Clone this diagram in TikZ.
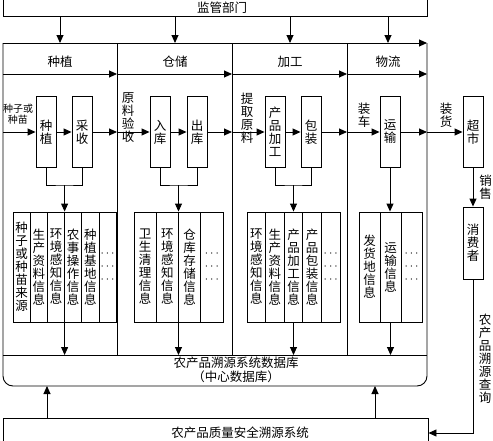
\documentclass[tikz,border=0pt]{standalone}
\usepackage{fontspec}
\setmainfont{Noto Sans CJK SC}
\usetikzlibrary{arrows.meta}

\tikzset{
  arr/.style={-{Triangle[length=8pt,width=7pt]}},
  stage/.style={draw, minimum width=20pt, minimum height=71pt, inner sep=0pt, align=center},
  cell/.style={draw, minimum width=#1, minimum height=110pt, inner sep=0pt, align=center},
  vtext/.style={inner sep=0pt, align=center},
}

\begin{document}
\begin{tikzpicture}[x=1pt, y=-1pt, line width=0.9pt,
  every node/.style={font=\fontsize{12.5}{13}\selectfont}]
\useasboundingbox (0,0) rectangle (493,440);

% supervision box
\node[draw, minimum width=424pt, minimum height=20pt] (jgbm) at (215,6) {};
\node (jgbmt) at (222,8) {监管部门};

% helper levels
\coordinate (ftop) at (0,43);
\coordinate (dbl) at (0,355);
\coordinate (fbot) at (0,386);

% outer frame and columns
\draw[rounded corners=10pt] (3,43) -- (3,386) -- (427,386) -- (427,43);
\draw[arr] (3,43) -- (427,43);
\draw (117,43) -- (117,355);
\draw (232,43) -- (232,355);
\draw (347,43) -- (347,355);
\draw (3,355) -- (427,355);

\draw[arr] (3,74) -- (117,74);
\draw[arr] (117,74) -- (232,74);
\draw[arr] (232,74) -- (347,74);
\draw[arr] (347,74) -- (427,74);

% column heads
\node (hzz) at (60,62) {种植};
\node (hcc) at (175,62) {仓储};
\node (hjg) at (290,62) {加工};
\node (hwl) at (388,62) {物流};
\draw[arr] (jgbm.south -| hzz) -- (hzz |- ftop);
\draw[arr] (jgbm.south -| hcc) -- (hcc |- ftop);
\draw[arr] (jgbm.south -| hjg) -- (hjg |- ftop);
\draw[arr] (jgbm.south -| hwl) -- (hwl |- ftop);

% stages
\node[stage] (zz) at (46,132) {种\\植};
\node[stage] (sh) at (82,132) {采\\收};
\node[stage] (rk) at (160,132) {入\\库};
\node[stage] (ck) at (197,132) {出\\库};
\node[stage] (jg) at (275,132) {产\\品\\加\\工};
\node[stage] (bz) at (311,132) {包\\装};
\node[stage] (ys) at (390,132) {运\\输};
\node[stage] (cs) at (473,132) {超\\市};
\node[stage, minimum height=72pt] (xfz) at (473,243) {消\\费\\者};

\coordinate (b0) at (3,132);
\coordinate (b1) at (117,132);
\coordinate (b2) at (232,132);
\coordinate (b3) at (347,132);
\coordinate (b4) at (427,132);

\node[font=\fontsize{10}{11}\selectfont, align=center, inner sep=0pt] (zzzm) at (18,114) {种子或\\种苗};
\node[vtext] (ylys) at (128,118) {原\\料\\验\\收};
\node[vtext] (tqyl) at (247,118) {提\\取\\原\\料};
\node[vtext] (zc) at (364,115) {装\\车};
\node[vtext] (zh) at (446,115) {装\\货};

\draw[arr] (b0) -- (zz);
\draw[arr] (zz) -- (sh);
\draw[arr] (sh) -- (b1);
\draw[arr] (b1) -- (rk);
\draw[arr] (rk) -- (ck);
\draw[arr] (ck) -- (b2);
\draw[arr] (b2) -- (jg);
\draw[arr] (jg) -- (bz);
\draw[arr] (bz) -- (b3);
\draw[arr] (b3) -- (ys);
\draw[arr] (ys) -- (b4);
\draw[arr] (b4) -- (cs);
\draw[arr] (cs) -- node[vtext, right=6pt] (xs) {销\\售} (xfz);

% information cells
\node[cell=17.2pt] (c11) at (21.6,267) {种\\子\\或\\种\\苗\\来\\源};
\node[cell=17.2pt] (c12) at (38.8,267) {生\\产\\资\\料\\信\\息};
\node[cell=17.2pt] (c13) at (56.0,267) {环\\境\\感\\知\\信\\息};
\node[cell=17.2pt] (c14) at (73.2,267) {农\\事\\操\\作\\信\\息};
\node[cell=17.2pt] (c15) at (90.4,267) {种\\植\\基\\地\\信\\息};
\node[cell=17.2pt] (c16) at (107.6,267) {$\cdots$\\$\cdots$\\$\cdots$};

\node[cell=22.25pt] (c21) at (145.1,267) {卫\\生\\清\\理\\信\\息};
\node[cell=22.25pt] (c22) at (167.4,267) {环\\境\\感\\知\\信\\息};
\node[cell=22.25pt] (c23) at (189.6,267) {仓\\库\\存\\储\\信\\息};
\node[cell=22.25pt] (c24) at (211.9,267) {$\cdots$\\$\cdots$\\$\cdots$};

\node[cell=18.6pt] (c31) at (256.3,267) {环\\境\\感\\知\\信\\息};
\node[cell=18.6pt] (c32) at (274.9,267) {生\\产\\资\\料\\信\\息};
\node[cell=18.6pt] (c33) at (293.5,267) {产\\品\\加\\工\\信\\息};
\node[cell=18.6pt] (c34) at (312.1,267) {产\\品\\包\\装\\信\\息};
\node[cell=18.6pt] (c35) at (330.7,267) {$\cdots$\\$\cdots$\\$\cdots$};

\node[cell=21pt] (c41) at (369.5,267) {发\\货\\地\\信\\息};
\node[cell=21pt] (c42) at (390.5,267) {运\\输\\信\\息};
\node[cell=21pt] (c43) at (411.5,267) {$\cdots$\\$\cdots$\\$\cdots$};

% gathering into the cells
\coordinate (m1) at (64.6,185);
\coordinate (m2) at (178.5,185);
\coordinate (m3) at (293.5,185);
\draw (zz.south) |- (m1) -| (sh.south);
\draw (rk.south) |- (m2) -| (ck.south);
\draw (jg.south) |- (m3) -| (bz.south);
\draw[arr] (m1) -- (m1 |- c13.north);
\draw[arr] (m2) -- (m2 |- c22.north);
\draw[arr] (m3) -- (m3 |- c33.north);
\draw[arr] (ys.south) -- (ys.south |- c42.north);

\draw[arr] (m1 |- c13.south) -- (m1 |- dbl);
\draw[arr] (m2 |- c22.south) -- (m2 |- dbl);
\draw[arr] (c33.south) -- (c33.south |- dbl);
\draw[arr] (c42.south) -- (c42.south |- dbl);

% database
\node[align=center, font=\fontsize{12.5}{14}\selectfont] (sjk) at (236,370) {农产品溯源系统数据库\\（中心数据库）};

% bottom system
\node[draw, minimum width=425pt, minimum height=30pt] (sys) at (215.5,433) {};
\node (syst) at (240,433) {农产品质量安全溯源系统};
\coordinate (q1) at (47,0);
\coordinate (q2) at (375,0);
\draw[arr] (sys.north -| q1) -- (q1 |- fbot);
\draw[arr] (sys.north -| q2) -- (q2 |- fbot);

\draw[arr] (xfz) |- (sys);
\node[vtext] (cx) at (485,359) {农\\产\\品\\溯\\源\\查\\询};
\end{tikzpicture}
\end{document}
